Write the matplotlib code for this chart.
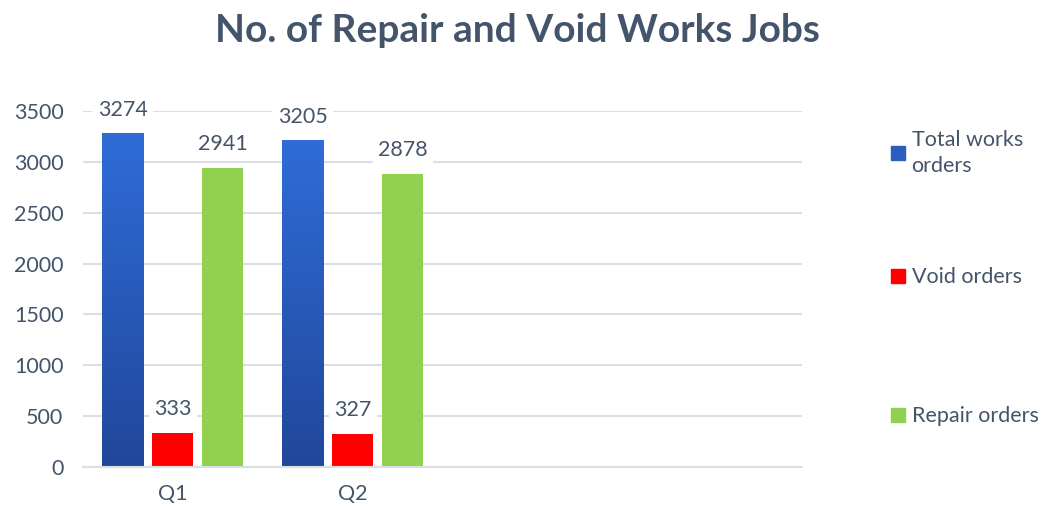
import numpy as np
import matplotlib.pyplot as plt
from matplotlib.colors import LinearSegmentedColormap
from matplotlib.patches import Patch

# data
quarters = ["Q1", "Q2", "", ""]
total_works = [3274, 3205]
void_orders = [333, 327]
repair_orders = [2941, 2878]
series_names = ["Total works\norders", "Void orders", "Repair orders"]

text_col = "#44546A"
grid_col = "#DADEE5"
blue_top, blue_bot = "#2F6CD8", "#21479A"
red = "#FF0000"
green = "#92D050"

plt.rcParams["font.family"] = ["Lato", "DejaVu Sans"]

fig = plt.figure(figsize=(10.49, 5.09), dpi=100)
ax = fig.add_axes([0.079, 0.0825, 0.686, 0.6995])

x = np.arange(len(total_works))
w = 0.228
off = 0.278

b1 = ax.bar(x - off, total_works, w, color=blue_top, zorder=2)
b2 = ax.bar(x, void_orders, w, color=red, zorder=2)
b3 = ax.bar(x + off, repair_orders, w, color=green, zorder=2)

# vertical gradient on the blue bars
cmap = LinearSegmentedColormap.from_list("blues", [blue_bot, blue_top])
grad = np.linspace(0, 1, 256).reshape(-1, 1)
for r in b1:
    ax.imshow(grad, cmap=cmap, origin="lower", aspect="auto", zorder=2.5,
              extent=[r.get_x(), r.get_x() + r.get_width(), 0, r.get_height()])

for bars in (b1, b2, b3):
    for r in bars:
        ax.annotate(f"{int(r.get_height())}",
                    (r.get_x() + r.get_width() / 2, r.get_height()),
                    xytext=(0, 10), textcoords="offset points",
                    ha="center", va="bottom", fontsize=15.5, color=text_col,
                    bbox=dict(boxstyle="square,pad=0.25", fc="white", ec="none"),
                    zorder=4, annotation_clip=False)

ax.set_xlim(-0.5, len(quarters) - 0.5)
ax.set_ylim(0, 3500)
ax.set_xticks(range(len(quarters)))
ax.set_xticklabels(quarters)
ax.set_yticks(range(0, 3501, 500))
ax.tick_params(axis="both", length=0, labelsize=15.5, colors=text_col)
ax.tick_params(axis="x", pad=12)
ax.tick_params(axis="y", pad=14)
ax.grid(axis="y", color=grid_col, lw=1.5, zorder=0)
for s in ["top", "right", "left"]:
    ax.spines[s].set_visible(False)
ax.spines["bottom"].set_color(grid_col)
ax.spines["bottom"].set_linewidth(1.5)

fig.suptitle("No. of Repair and Void Works Jobs", x=0.493, y=0.975,
             fontsize=28, fontweight="bold", color=text_col)

# legend entries spread down the right side
colors = ["#2A5EC0", red, green]
ys = [0.700, 0.455, 0.182]
for name, c, yy in zip(series_names, colors, ys):
    lg = fig.legend(handles=[Patch(color=c)], labels=[name], loc="center left",
                    bbox_to_anchor=(0.831, yy), frameon=False, fontsize=15.5,
                    handlelength=0.65, handleheight=0.65, handletextpad=0.3,
                    labelcolor=text_col)
    for t in lg.get_texts():
        t.set_linespacing(1.4)

fig.savefig("out.png", dpi=100)
